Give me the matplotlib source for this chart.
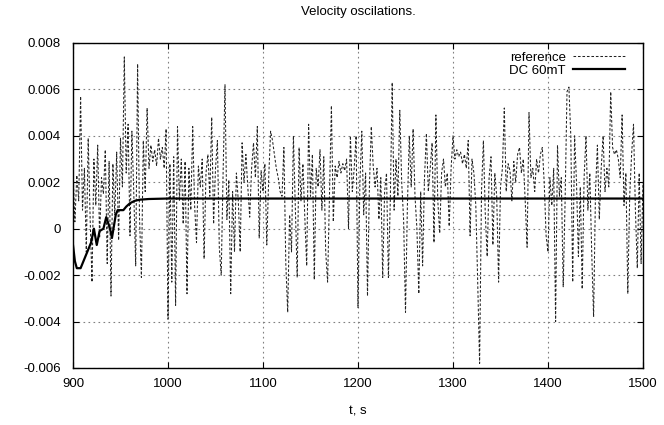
import numpy as np
import matplotlib
matplotlib.use('Agg')
import matplotlib.pyplot as plt
from matplotlib.ticker import FuncFormatter, MultipleLocator

plt.rcParams['font.family'] = ['Liberation Sans', 'DejaVu Sans']
plt.rcParams['font.size'] = 9.5

# reference signal, sampled every 2 s, values in 1e-3 units
t_ref = np.arange(900, 1501, 2)
v_ref = [
	2.5, 0.3, 2.3, 1.2, 5.7, 0.8, 2.6, -1.0, 3.9, 0.5,
	-2.3, 3.0, 1.0, 3.6, -0.4, 2.2, 1.5, 3.4, -1.5, 2.9,
	-2.9, 2.8, 0.6, 3.3, -0.5, 3.9, 1.8, 7.4, 2.4, 4.5,
	-0.3, 4.2, 1.5, -1.6, 7.1, 0.5, -2.1, 3.8, 1.6, 5.2,
	2.6, 3.6, 2.9, 3.4, 2.7, 3.9, 3.0, 3.5, 2.6, 4.3,
	-3.9, 2.8, -2.3, 3.1, -3.3, 4.4, 1.2, 3.0, 0.2, 2.9,
	-2.8, 2.6, 0.8, 4.4, 1.0, -0.6, 2.7, 1.8, 3.0, -1.3,
	2.4, 3.2, 1.4, 4.8, 0.2, 2.6, 3.8, -0.8, -2.0, 2.4,
	6.2, 0.4, 2.1, -2.8, 1.6, -1.0, 2.4, 1.2, -1.0, 3.7,
	2.0, 3.2, 1.8, 0.5, 2.6, 3.7, 2.2, 4.4, -0.4, 2.5,
	1.6, 2.8, -0.7, 2.2, 4.2, 3.8, 3.2, 2.6, 2.2, 1.6,
	1.4, 3.5, -1.5, -3.6, 0.6, -1.0, 4.0, 0.9, -2.1, 3.5,
	1.2, 2.8, 0.5, -1.6, 4.5, 1.4, 3.2, -2.2, 2.6, 1.8,
	3.4, 0.8, 3.1, -1.0, -2.3, 1.5, 5.3, 0.3, 2.7, 2.2,
	2.9, 2.4, 2.8, 2.5, 3.0, 0.0, 4.0, 1.6, 2.6, 4.0,
	-3.4, 2.0, 4.2, 0.6, 2.4, -2.9, 1.8, 4.4, 2.7, 1.8,
	2.6, 0.4, 2.2, -2.1, 1.6, 2.4, -2.1, 1.2, 6.3, 0.8,
	3.0, 1.4, 5.1, 2.0, 0.4, -3.6, 1.0, 4.0, 1.8, 4.3,
	1.4, 0.0, -2.8, 1.6, -1.6, 2.2, 4.1, 1.6, 2.6, 3.7,
	-0.6, 4.9, 1.2, -0.2, 2.4, 3.0, 1.8, 2.4, 0.1, 2.6,
	4.0, 3.0, 3.4, 3.1, 3.3, 2.8, 3.2, 2.6, 3.8, -0.3,
	3.0, 2.4, 1.0, -2.3, -5.8, 1.6, 3.8, 0.6, -1.2, 2.2,
	3.1, -0.7, 2.4, 1.4, -2.3, 1.8, 2.6, 5.2, 1.6, 2.8,
	2.5, 1.2, 2.9, 2.0, 3.2, 3.5, 2.4, 3.0, 1.2, -0.8,
	5.0, 2.2, 2.6, 1.6, 3.0, 2.4, 3.2, 3.5, 2.0, -0.3,
	-1.0, 2.2, 1.0, 2.6, -4.0, 3.6, 1.4, 2.2, -2.5, 1.2,
	5.9, 6.1, 4.0, -2.3, 4.0, 2.0, -1.2, 1.8, -2.6, 2.2,
	4.0, 0.8, 2.4, -1.0, -3.8, 1.6, 3.6, 0.4, 2.6, 4.0,
	1.6, 2.6, 1.8, 5.9, 3.5, 3.2, 3.4, 3.0, 2.2, 4.9,
	1.0, 2.4, -2.8, 1.4, 3.2, 4.5, 0.8, -1.7, 2.4, -1.5,
	2.0,
]

# DC 60mT response, 1e-3 units
t_dc = [900, 902, 904, 908, 911, 913, 916, 919, 922, 925, 928, 932, 935, 939,
	941, 945, 947, 953, 956, 960, 965, 970, 980, 1000, 1500]
v_dc = [-0.7, -1.4, -1.7, -1.7, -1.4, -1.2, -0.9, -0.6, 0.0, -0.7, -0.1, 0.0, 0.5, 0.0,
	-0.4, 0.6, 0.8, 0.8, 0.95, 1.1, 1.2, 1.25, 1.28, 1.3, 1.3]

fig = plt.figure(figsize=(6.64, 4.25), dpi=100)
ax = fig.add_axes([73/664, 1-368/425, 570/664, 325/425])

ax.plot(t_ref, np.array(v_ref)*1e-3, color='#222222', lw=0.75, ls=(0, (2.5, 1.8)), label='reference')
ax.plot(t_dc, np.array(v_dc)*1e-3, color='black', lw=1.6, label='DC 60mT')

ax.set_xlim(900, 1500)
ax.set_ylim(-0.006, 0.008)
ax.xaxis.set_major_locator(MultipleLocator(100))
ax.yaxis.set_major_locator(MultipleLocator(0.002))
ax.yaxis.set_major_formatter(FuncFormatter(lambda v, p: '0' if abs(v) < 1e-12 else '%.3f' % v))
ax.tick_params(direction='in', top=True, right=True, length=4, width=0.8)
ax.tick_params(axis='y', pad=9)
ax.tick_params(axis='x', pad=7)
ax.grid(True, color='gray', ls=(0, (1.5, 3)), lw=0.8)
for s in ax.spines.values():
	s.set_linewidth(1.0)

leg = ax.legend(loc='upper right', frameon=False, markerfirst=False, handlelength=3.9,
	borderaxespad=1.0, labelspacing=0.05, handletextpad=0.55,
	bbox_to_anchor=(1.0, 1.0 + 10/325))
for txt in leg.get_texts():
	txt.set_ha('right')

fig.text(358/664, 1-12/425, 'Velocity oscilations.', ha='center', va='center')
fig.text(358/664, 1-412/425, 't, s', ha='center', va='center')

fig.savefig('out.png', dpi=100)
